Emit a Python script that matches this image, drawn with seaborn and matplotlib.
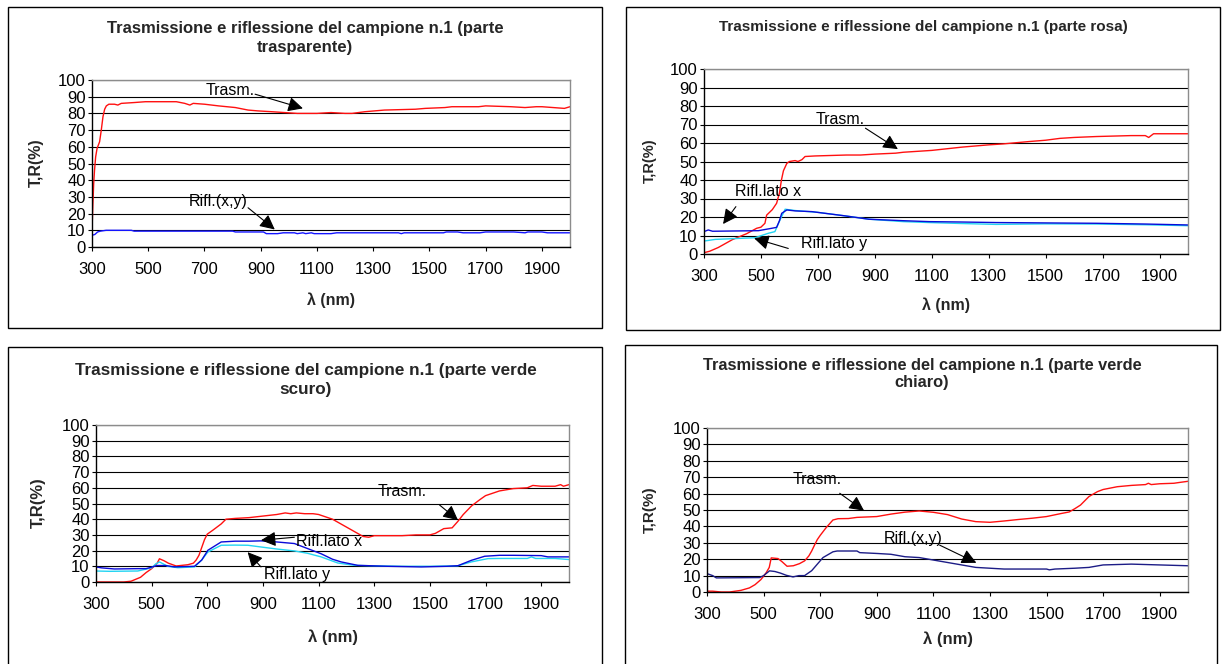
import matplotlib
matplotlib.use("Agg")
import matplotlib.pyplot as plt
import seaborn as sns
from matplotlib.patches import Rectangle

sns.set_theme(style="white")
plt.rcParams['font.family'] = ['Liberation Sans', 'DejaVu Sans']

# ---------------- data ----------------
# panel 1: parte trasparente
wl_1t = [300, 303, 306, 309, 313, 318, 327, 333, 339, 345, 351, 360, 380, 392, 404, 450, 490, 600,
         630, 648, 660, 700, 750, 810, 855, 890, 940, 985, 1030, 1100, 1150, 1200, 1225, 1270, 1340,
         1450, 1485, 1555, 1580, 1675, 1700, 1790, 1840, 1880, 1900, 1980, 2000]
t_1 = [10, 25, 38, 46, 54, 59, 63, 70, 78, 82.5, 84.5, 85.5, 85.5, 85, 86, 86.5, 87, 87,
       86, 85, 86, 85.5, 84.5, 83.5, 82, 81.5, 81, 80.5, 80, 80, 80.5, 80, 80, 81, 82,
       82.5, 83, 83.5, 84, 84, 84.5, 84, 83.5, 84, 84, 83, 84]
wl_1r = [300, 310, 320, 330, 350, 440, 450, 800, 810, 910, 920, 960, 980, 1020, 1030, 1050, 1060,
         1080, 1090, 1110, 1150, 1170, 1180, 1390, 1400, 1410, 1550, 1560, 1600, 1620, 1680, 1700,
         1800, 1840, 1850, 1880, 1900, 1920, 2000]
r_1 = [7, 7.5, 9, 9.5, 10, 10, 9.5, 9.5, 9, 9, 8, 8, 8.5, 8.5, 8, 8.5, 8,
       8.5, 8, 8, 8, 8.5, 8.5, 8.5, 8, 8.5, 8.5, 9, 9, 8.5, 8.5, 9,
       9, 8.5, 9, 9, 9, 8.5, 8.5]

# panel 2: parte rosa
wl_2t = [300, 320, 350, 400, 450, 485, 500, 514, 520, 540, 555, 565, 572, 579, 591, 600, 620, 630,
         644, 655, 690, 800, 850, 900, 973, 1000, 1100, 1208, 1300, 1350, 1443, 1500, 1550, 1600,
         1679, 1800, 1850, 1862, 1879, 1900, 2000]
t_2 = [0.7, 1.5, 3.5, 7.8, 11, 13.9, 14.5, 16.6, 21, 24, 27.4, 33, 40, 45, 49, 50, 50.5, 50,
       51, 52.7, 53, 53.5, 53.5, 54, 54.5, 55, 56, 57.8, 59, 59.5, 60.8, 61.5, 62.5, 63,
       63.5, 64, 64, 63, 65, 65, 65]
wl_2x = [300, 315, 330, 491, 538, 555, 565, 573, 591, 620, 679, 796, 879, 1000, 1091, 1200, 1326,
         1500, 1679, 1850, 2000]
r_2x = [12.1, 13, 12.3, 12.6, 13.9, 14.4, 18, 22, 23.8, 23.3, 22.9, 20.6, 18.8, 18, 17.5, 17.3, 17,
        16.8, 16.6, 16.2, 15.7]
wl_2y = [300, 340, 479, 526, 549, 567, 585, 620, 700, 796, 879, 1000, 1091, 1200, 1326, 1500, 1679,
         1850, 2000]
r_2y = [7, 7.9, 8.8, 11.2, 12.1, 18.4, 24.2, 23.5, 22.5, 20.6, 18.8, 17.5, 17, 16.5, 16, 16.3, 16.2,
        15.8, 15.3]

# panel 3: parte verde scuro
wl_3t = [300, 400, 426, 460, 480, 500, 520, 528, 545, 560, 588, 630, 650, 660, 670, 680, 690, 700,
         720, 750, 767, 800, 850, 900, 950, 980, 1000, 1020, 1050, 1080, 1100, 1150, 1200, 1230,
         1260, 1280, 1300, 1350, 1400, 1450, 1500, 1520, 1550, 1580, 1600, 1620, 1650, 1680, 1700,
         1750, 1800, 1850, 1870, 1900, 1950, 1970, 1980, 2000]
t_3 = [0, 0, 0.5, 3, 6, 8.5, 12, 14.8, 13.5, 12, 10.2, 11, 12, 14, 17, 22, 27, 30.5,
       33, 37, 40, 40.5, 41, 42, 43, 44, 43.5, 44, 43.5, 43.5, 43, 40, 35, 32,
       29, 28.5, 29.5, 29.5, 29.5, 30, 30, 31, 34, 34.5, 38.5, 43, 48.5, 52.5, 55,
       58, 59.5, 60, 61.5, 61, 61, 62, 61, 62]
wl_3x = [300, 320, 366, 450, 480, 500, 520, 550, 582, 654, 680, 702, 750, 800, 850, 893, 950, 1013,
         1050, 1109, 1150, 1181, 1241, 1349, 1469, 1560, 1601, 1649, 1697, 1750, 1800, 1900, 1924,
         2000]
r_3x = [9.6, 9, 8.3, 8.5, 8.5, 9.5, 10.5, 10.5, 9.6, 10, 14, 20.2, 25.5, 26, 26, 26.2, 25.5, 24.5,
        22, 18, 14.5, 12.8, 10.6, 10, 9.6, 10, 10.4, 13.8, 16.4, 17, 17, 16.8, 16, 16]
wl_3y = [300, 350, 450, 500, 515, 528, 558, 594, 654, 680, 702, 750, 800, 846, 893, 950, 1013, 1060,
         1109, 1169, 1229, 1300, 1400, 1500, 1600, 1649, 1709, 1750, 1800, 1850, 1865, 1880, 1900,
         1950, 2000]
r_3y = [7, 6.8, 7, 9, 11.5, 12.8, 10, 9.1, 9.6, 14, 19.1, 23.4, 23.5, 23.4, 22.3, 21, 19.8, 18.3,
        16, 12.1, 10.6, 10.3, 10, 10, 10.3, 12.8, 14.9, 15, 15, 15, 16, 15, 15,
        15, 14.3]

# panel 4: parte verde chiaro
wl_4t = [300, 320, 350, 380, 400, 420, 450, 470, 490, 500, 510, 520, 527, 551, 565, 583, 605, 627,
         645, 660, 670, 680, 690, 700, 720, 745, 763, 800, 830, 900, 950, 1000, 1050, 1100, 1150,
         1200, 1250, 1300, 1350, 1400, 1450, 1500, 1550, 1580, 1600, 1620, 1650, 1680, 1700, 1750,
         1800, 1850, 1860, 1870, 1900, 1950, 1970, 2000]
t_4 = [0.5, 0.5, 0, 0, 0.5, 1, 2.5, 4.5, 7.5, 9.6, 12, 15, 20.8, 20.4, 18.5, 15.7, 16, 17.3,
       19, 22, 25, 28.6, 32, 34.5, 39, 43.9, 44.7, 44.8, 45.5, 46, 47.5, 48.7, 49.4, 48.6, 47.2,
       44.5, 42.9, 42.5, 43.3, 44.2, 45, 46, 47.8, 48.8, 50.8, 53, 58.2, 61.2, 62.5, 64.2,
       65, 65.5, 66.3, 65.5, 66, 66.3, 66.8, 67.5]
wl_4r = [300, 320, 333, 486, 500, 521, 540, 560, 580, 604, 625, 645, 670, 690, 710, 745, 760, 830,
         840, 900, 950, 1000, 1050, 1100, 1150, 1200, 1250, 1300, 1350, 1500, 1510, 1530, 1600,
         1650, 1700, 1800, 1900, 2000]
r_4 = [11.2, 10, 8.6, 8.8, 10, 12.9, 12.5, 11.5, 10.2, 9.2, 10, 10, 13, 17, 21, 24.5, 25, 25,
       24, 23.5, 23, 21.5, 21, 19.5, 18, 16.5, 15, 14.5, 14, 14, 13.5, 14, 14.5,
       15, 16.5, 17, 16.5, 16]

x_ticks = list(range(300, 2000, 200))
y_ticks = list(range(0, 101, 10))

RED = '#FF1010'
BLUE = '#1414FF'
DBLUE = '#0A0AD8'
CYAN = '#22D4F2'
NAVY = '#1C1C86'

W, H = 1222, 664
fig = plt.figure(figsize=(W / 100, H / 100), dpi=100)
fig.patch.set_facecolor('white')


def fx(px):
    return px / W


def fy(py):
    return 1 - py / H


# chart borders (Excel chart areas)
for (x0, y0, x1, y1) in [(8, 7, 602, 328), (626, 7, 1220, 330), (8, 347, 602, 670), (625, 345, 1217, 670)]:
    fig.add_artist(Rectangle((fx(x0), fy(y1)), fx(x1 - x0), (y1 - y0) / H, transform=fig.transFigure,
                             fill=False, ec='black', lw=1.0))


def make_axes(l, r, t, b):
    ax = fig.add_axes([fx(l), fy(b), fx(r - l), (b - t) / H])
    ax.set_xlim(300, 2000)
    ax.set_ylim(0, 100)
    ax.set_xticks(x_ticks)
    ax.set_yticks(y_ticks)
    ax.yaxis.grid(True, color='black', lw=0.8)
    ax.xaxis.grid(False)
    ax.set_axisbelow(True)
    for s in ['left', 'bottom']:
        ax.spines[s].set_color('black')
        ax.spines[s].set_linewidth(1.0)
    for s in ['top', 'right']:
        ax.spines[s].set_color('#8c8c8c')
        ax.spines[s].set_linewidth(1.0)
    ax.tick_params(axis='both', which='major', direction='out', length=3, width=0.8,
                   color='black', labelsize=12, labelcolor='black')
    ax.tick_params(axis='x', pad=7.5, bottom=True)
    ax.tick_params(axis='y', pad=1.5, left=True)
    return ax


def arrow(ax, tail, head):
    ax.annotate('', xy=head, xytext=tail,
                arrowprops=dict(arrowstyle='-|>,head_length=0.6,head_width=0.3', color='black',
                                lw=0.8, mutation_scale=15, shrinkA=0, shrinkB=0),
                annotation_clip=False)


def label(ax, x, y, s):
    ax.text(x, y, s, fontsize=11.5, ha='left', va='center', color='black', clip_on=False)


def line(ax, x, y, c):
    sns.lineplot(x=x, y=y, ax=ax, color=c, lw=1.0, legend=False)
    ax.set_xlabel('')
    ax.set_ylabel('')


# ---- panel 1
ax1 = make_axes(92, 570, 80, 247)
line(ax1, wl_1t, t_1, RED)
line(ax1, wl_1r, r_1, BLUE)
label(ax1, 705, 93.5, 'Trasm.')
arrow(ax1, (880, 91.5), (1050, 83))
label(ax1, 645, 27.5, 'Rifl.(x,y)')
arrow(ax1, (855, 23.5), (950, 10.5))
fig.text(fx(305), fy(38), 'Trasmissione e riflessione del campione n.1 (parte\ntrasparente)',
         ha='center', va='center', fontsize=12, fontweight='bold', linespacing=1.3)
fig.text(fx(36), fy(163), 'T,R(%)', rotation=90, ha='center', va='center', fontsize=11.5, fontweight='bold')
fig.text(fx(331), fy(300), 'λ (nm)', ha='center', va='center', fontsize=11.5, fontweight='bold')

# ---- panel 2
ax2 = make_axes(704, 1188, 69, 254)
line(ax2, wl_2t, t_2, RED)
line(ax2, wl_2y, r_2y, CYAN)
line(ax2, wl_2x, r_2x, DBLUE)
label(ax2, 693, 72.5, 'Trasm.')
arrow(ax2, (867, 68), (981, 56.7))
label(ax2, 408, 34, 'Rifl.lato x')
arrow(ax2, (412, 25.6), (367, 16.2))
label(ax2, 641, 5.5, 'Rifl.lato y')
arrow(ax2, (596, 3), (476, 8.5))
fig.text(fx(923), fy(27), 'Trasmissione e riflessione del campione n.1 (parte rosa)',
         ha='center', va='center', fontsize=11, fontweight='bold')
fig.text(fx(650), fy(161), 'T,R(%)', rotation=90, ha='center', va='center', fontsize=10.5, fontweight='bold')
fig.text(fx(946), fy(305), 'λ (nm)', ha='center', va='center', fontsize=11.5, fontweight='bold')

# ---- panel 3
ax3 = make_axes(96, 569, 425, 582)
line(ax3, wl_3t, t_3, RED)
line(ax3, wl_3y, r_3y, CYAN)
line(ax3, wl_3x, r_3x, DBLUE)
label(ax3, 1311, 57.4, 'Trasm.')
arrow(ax3, (1535, 49), (1601, 39.4))
label(ax3, 1019, 25.5, 'Rifl.lato x')
arrow(ax3, (1013, 28.5), (893, 26.6))
label(ax3, 903, 4.9, 'Rifl.lato y')
arrow(ax3, (893, 9.6), (845, 19))
fig.text(fx(306), fy(380), 'Trasmissione e riflessione del campione n.1 (parte verde\nscuro)',
         ha='center', va='center', fontsize=12.3, fontweight='bold', linespacing=1.35)
fig.text(fx(38), fy(503), 'T,R(%)', rotation=90, ha='center', va='center', fontsize=12, fontweight='bold')
fig.text(fx(333), fy(637), 'λ (nm)', ha='center', va='center', fontsize=12, fontweight='bold')

# ---- panel 4
ax4 = make_axes(707, 1188, 428, 592)
line(ax4, wl_4t, t_4, RED)
line(ax4, wl_4r, r_4, NAVY)
label(ax4, 604, 68.8, 'Trasm.')
arrow(ax4, (769, 60.2), (855, 49.6))
label(ax4, 925, 32.7, 'Rifl.(x,y)')
arrow(ax4, (1122, 28.6), (1252, 17.8))
fig.text(fx(922), fy(374), 'Trasmissione e riflessione del campione n.1 (parte verde\nchiaro)',
         ha='center', va='center', fontsize=11.8, fontweight='bold', linespacing=1.2)
fig.text(fx(650), fy(510), 'T,R(%)', rotation=90, ha='center', va='center', fontsize=11, fontweight='bold')
fig.text(fx(948), fy(639), 'λ (nm)', ha='center', va='center', fontsize=12, fontweight='bold')

fig.savefig('out.png', dpi=100, facecolor='white')
